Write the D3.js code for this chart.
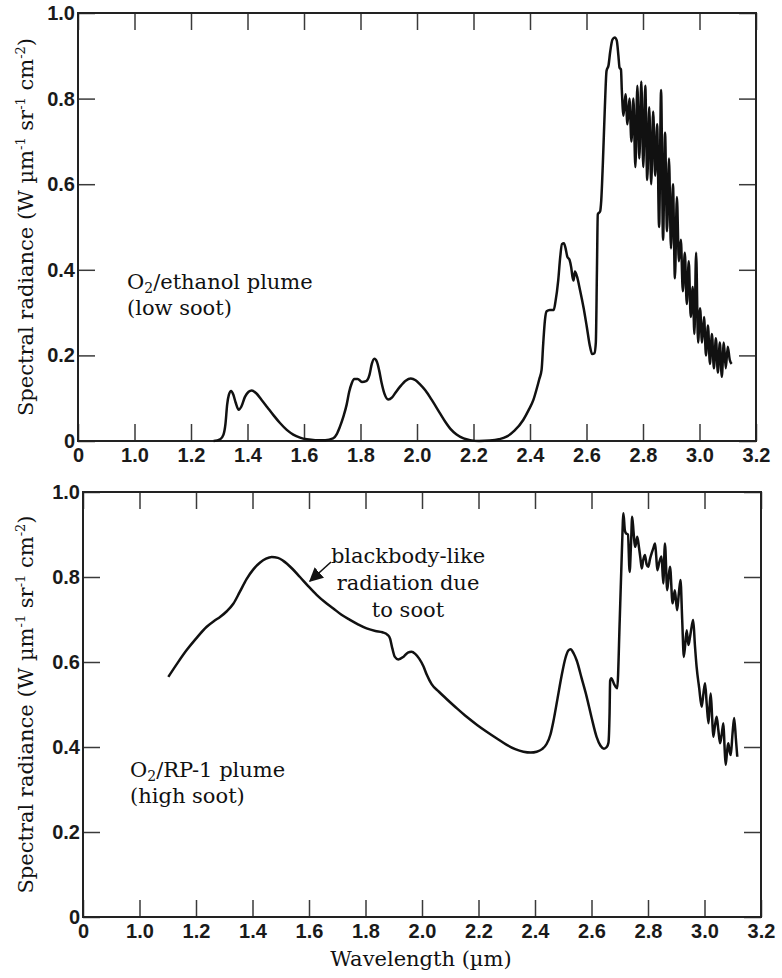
<!DOCTYPE html>
<html>
<head>
<meta charset="utf-8">
<script src="https://cdnjs.cloudflare.com/ajax/libs/d3/7.8.5/d3.min.js"></script>
<style>
body { margin: 0; background: #fff; }
svg { display: block; }
.tick text { font-family: "Liberation Sans", Arial, sans-serif; font-weight: bold; font-size: 20px; fill: #1a1a1a; }
.tick line { stroke: #3a3a3a; stroke-width: 1.5px; }
</style>
</head>
<body>
<svg id="chart" width="782" height="978"></svg>
<script>
var serifFont = "'DejaVu Serif', serif";

// tick values (0.8 position is labelled "0", the axis is broken there)
var xTickValues = [0.8, 1.0, 1.2, 1.4, 1.6, 1.8, 2.0, 2.2, 2.4, 2.6, 2.8, 3.0, 3.2];
var xTickLabels = ["0", "1.0", "1.2", "1.4", "1.6", "1.8", "2.0", "2.2", "2.4", "2.6", "2.8", "3.0", "3.2"];
var yTickValues = [0, 0.2, 0.4, 0.6, 0.8, 1.0];
var yTickLabels = ["0", "0.2", "0.4", "0.6", "0.8", "1.0"];

var ethanolPlume = [
	[1.28,0.0],[1.303,0.004],[1.315,0.015],[1.322,0.04],[1.328,0.085],[1.334,0.108],[1.342,0.117],
	[1.350,0.108],[1.358,0.090],[1.369,0.073],[1.378,0.080],[1.391,0.103],[1.404,0.115],[1.415,0.118],
	[1.430,0.112],[1.450,0.096],[1.470,0.079],[1.491,0.061],[1.515,0.042],[1.539,0.026],[1.562,0.015],
	[1.586,0.008],[1.610,0.004],[1.640,0.002],[1.675,0.002],[1.703,0.006],[1.716,0.016],[1.727,0.033],
	[1.740,0.058],[1.751,0.085],[1.760,0.115],[1.769,0.135],[1.778,0.145],[1.790,0.145],[1.805,0.138],
	[1.820,0.140],[1.832,0.155],[1.840,0.180],[1.849,0.192],[1.858,0.185],[1.866,0.165],[1.875,0.135],
	[1.885,0.110],[1.898,0.097],[1.912,0.102],[1.925,0.114],[1.940,0.127],[1.960,0.141],[1.978,0.146],
	[1.995,0.142],[2.010,0.133],[2.030,0.118],[2.055,0.093],[2.081,0.065],[2.100,0.045],[2.120,0.027],
	[2.140,0.015],[2.165,0.006],[2.188,0.002],[2.220,0.0],[2.258,0.001],[2.290,0.004],[2.317,0.010],
	[2.345,0.024],[2.376,0.049],[2.395,0.072],[2.412,0.096],[2.425,0.125],[2.433,0.145],[2.441,0.166],
	[2.447,0.230],[2.453,0.283],[2.459,0.303],[2.470,0.306],[2.484,0.306],[2.490,0.325],[2.500,0.376],
	[2.507,0.430],[2.513,0.460],[2.520,0.462],[2.526,0.450],[2.532,0.431],[2.540,0.423],[2.546,0.405],
	[2.550,0.385],[2.554,0.375],[2.559,0.396],[2.566,0.385],[2.577,0.353],[2.590,0.310],[2.601,0.267],
	[2.612,0.222],[2.620,0.203],[2.628,0.205],[2.633,0.230],[2.637,0.400],[2.640,0.530],[2.648,0.536],
	[2.652,0.560],[2.658,0.650],[2.665,0.780],[2.671,0.865],[2.678,0.878],[2.684,0.910],[2.692,0.938],
	[2.700,0.943],[2.707,0.936],[2.713,0.900],[2.717,0.872],[2.722,0.868],
	[2.725,0.82],[2.731,0.76],[2.738,0.81],[2.745,0.74],[2.752,0.80],[2.759,0.70],[2.766,0.80],
	[2.773,0.64],[2.780,0.83],[2.787,0.66],[2.794,0.84],[2.801,0.64],[2.808,0.83],[2.815,0.61],
	[2.822,0.78],[2.829,0.60],[2.836,0.77],[2.843,0.62],[2.850,0.74],[2.857,0.50],[2.864,0.82],
	[2.871,0.47],[2.878,0.72],[2.885,0.49],[2.892,0.66],[2.899,0.45],[2.906,0.60],[2.913,0.38],
	[2.920,0.57],[2.927,0.42],[2.934,0.47],[2.941,0.35],[2.948,0.44],[2.955,0.32],[2.962,0.42],
	[2.969,0.29],[2.976,0.36],[2.982,0.25],[2.988,0.44],[2.995,0.23],[3.002,0.31],[3.009,0.23],
	[3.016,0.29],[3.023,0.20],[3.030,0.27],[3.037,0.18],[3.044,0.25],[3.051,0.17],[3.058,0.24],
	[3.065,0.16],[3.072,0.23],[3.079,0.15],[3.086,0.23],[3.093,0.17],[3.100,0.22],[3.107,0.19],
	[3.114,0.18]
];

var rp1Plume = [
	[1.102,0.565],[1.135,0.598],[1.167,0.628],[1.200,0.655],[1.238,0.683],[1.265,0.697],[1.285,0.706],
	[1.310,0.720],[1.332,0.737],[1.355,0.765],[1.379,0.795],[1.403,0.818],[1.427,0.834],[1.448,0.843],
	[1.468,0.847],[1.490,0.845],[1.509,0.838],[1.540,0.820],[1.568,0.800],[1.598,0.778],[1.627,0.758],
	[1.656,0.741],[1.686,0.726],[1.715,0.711],[1.745,0.699],[1.775,0.688],[1.804,0.679],[1.835,0.673],
	[1.860,0.670],[1.878,0.664],[1.887,0.655],[1.895,0.632],[1.904,0.612],[1.916,0.606],[1.934,0.612],
	[1.950,0.622],[1.963,0.624],[1.976,0.619],[1.990,0.608],[2.005,0.590],[2.017,0.570],[2.034,0.548],
	[2.060,0.530],[2.087,0.513],[2.120,0.493],[2.158,0.471],[2.195,0.452],[2.229,0.436],[2.265,0.420],
	[2.300,0.405],[2.330,0.395],[2.359,0.389],[2.385,0.387],[2.406,0.389],[2.425,0.395],[2.441,0.407],
	[2.455,0.430],[2.465,0.460],[2.480,0.515],[2.494,0.567],[2.508,0.610],[2.518,0.627],[2.526,0.630],
	[2.537,0.620],[2.548,0.603],[2.565,0.562],[2.583,0.518],[2.600,0.470],[2.618,0.424],[2.632,0.403],
	[2.644,0.396],[2.654,0.400],[2.660,0.410],[2.664,0.480],[2.666,0.556],[2.670,0.562],[2.680,0.548],
	[2.691,0.538],[2.700,0.700],[2.708,0.870],[2.713,0.950],[2.718,0.910],[2.722,0.903],[2.729,0.900],
	[2.735,0.812],[2.740,0.880],[2.744,0.942],[2.749,0.905],[2.754,0.871],[2.758,0.880],[2.762,0.895],
	[2.768,0.870],[2.773,0.845],[2.778,0.820],[2.783,0.840],[2.789,0.852],[2.795,0.830],[2.801,0.824],
	[2.807,0.842],[2.813,0.856],[2.819,0.868],[2.825,0.879],[2.829,0.850],[2.833,0.816],[2.840,0.835],
	[2.848,0.848],[2.854,0.785],[2.860,0.879],[2.868,0.769],[2.873,0.800],[2.878,0.824],[2.887,0.738],
	[2.895,0.769],[2.903,0.722],[2.909,0.760],[2.915,0.793],[2.921,0.700],[2.927,0.612],[2.937,0.675],
	[2.943,0.640],[2.949,0.660],[2.955,0.685],[2.960,0.699],[2.966,0.640],[2.972,0.589],[2.981,0.540],
	[2.990,0.495],[2.996,0.525],[3.002,0.550],[3.008,0.500],[3.014,0.456],[3.018,0.495],[3.022,0.526],
	[3.027,0.470],[3.031,0.424],[3.037,0.450],[3.043,0.471],[3.049,0.440],[3.055,0.409],[3.061,0.430],
	[3.067,0.456],[3.071,0.400],[3.075,0.358],[3.080,0.390],[3.084,0.409],[3.089,0.390],[3.093,0.381],
	[3.099,0.430],[3.105,0.468],[3.111,0.420],[3.116,0.377]
];

var svg = d3.select("#chart");

svg.append("defs").append("marker")
	.attr("id", "arrow")
	.attr("viewBox", "0 0 10 10")
	.attr("refX", 9)
	.attr("refY", 5)
	.attr("markerUnits", "userSpaceOnUse")
	.attr("markerWidth", 14)
	.attr("markerHeight", 14)
	.attr("orient", "auto")
	.append("path")
	.attr("d", "M0,0 L10,5 L0,10 z")
	.attr("fill", "#111");

function serifText(sel, size) {
	return sel.append("text")
		.attr("font-family", serifFont)
		.style("font-family", serifFont)
		.attr("font-size", size)
		.attr("fill", "#111");
}

function drawPanel(box, data) {
	var x = d3.scaleLinear().domain([0.8, 3.2]).range([box.left, box.right]);
	var y = d3.scaleLinear().domain([0, 1]).range([box.bottom, box.top]);
	var g = svg.append("g");
	var tickLen = 17;

	g.append("g")
		.attr("transform", "translate(0," + box.bottom + ")")
		.call(d3.axisBottom(x).tickValues(xTickValues).tickSize(-tickLen).tickPadding(7)
			.tickFormat(function(d, i) { return xTickLabels[i]; }));

	g.append("g")
		.attr("transform", "translate(0," + box.top + ")")
		.call(d3.axisTop(x).tickValues(xTickValues).tickSize(-tickLen).tickFormat(""));

	g.append("g")
		.attr("transform", "translate(" + box.left + ",0)")
		.call(d3.axisLeft(y).tickValues(yTickValues).tickSize(-tickLen).tickPadding(3)
			.tickFormat(function(d, i) { return yTickLabels[i]; }));

	g.append("g")
		.attr("transform", "translate(" + box.right + ",0)")
		.call(d3.axisRight(y).tickValues(yTickValues).tickSize(-tickLen).tickFormat(""));

	g.selectAll(".domain").remove();

	g.append("rect")
		.attr("x", box.left)
		.attr("y", box.top)
		.attr("width", box.right - box.left)
		.attr("height", box.bottom - box.top)
		.attr("fill", "none")
		.attr("stroke", "#222")
		.attr("stroke-width", 2);

	var line = d3.line()
		.x(function(d) { return x(d[0]); })
		.y(function(d) { return y(d[1]); })
		.curve(d3.curveMonotoneX);

	g.append("path")
		.datum(data)
		.attr("d", line)
		.attr("fill", "none")
		.attr("stroke", "#111")
		.attr("stroke-width", 2.5)
		.attr("stroke-linejoin", "round");

	radianceTitle(33, (box.top + box.bottom) / 2);
	return g;
}

function radianceTitle(cx, cy) {
	var t = serifText(svg, 21)
		.attr("transform", "translate(" + cx + "," + cy + ") rotate(-90)")
		.attr("text-anchor", "middle");
	t.append("tspan").text("Spectral radiance (W µm");
	t.append("tspan").attr("dy", -8).attr("font-size", 13).text("-1");
	t.append("tspan").attr("dy", 8).text(" sr");
	t.append("tspan").attr("dy", -8).attr("font-size", 13).text("-1");
	t.append("tspan").attr("dy", 8).text(" cm");
	t.append("tspan").attr("dy", -8).attr("font-size", 13).text("-2");
	t.append("tspan").attr("dy", 8).text(")");
}

function plumeLabel(x0, y0, fuel, soot) {
	var t = serifText(svg, 21).attr("x", x0).attr("y", y0);
	t.append("tspan").text("O");
	t.append("tspan").attr("dy", 4).attr("font-size", 14).text("2");
	t.append("tspan").attr("dy", -4).text("/" + fuel + " plume");
	serifText(svg, 21).attr("x", x0).attr("y", y0 + 26).text(soot);
}

drawPanel({left: 78, right: 756, top: 13, bottom: 441}, ethanolPlume);
drawPanel({left: 83, right: 761, top: 492, bottom: 917}, rp1Plume);

plumeLabel(127, 289, "ethanol", "(low soot)");
plumeLabel(130, 777, "RP-1", "(high soot)");

var note = ["blackbody-like", "radiation due", "to soot"];
note.forEach(function(d, i) {
	serifText(svg, 21)
		.attr("x", 408)
		.attr("y", 563 + i * 27)
		.attr("text-anchor", "middle")
		.text(d);
});

svg.append("line")
	.attr("x1", 331).attr("y1", 562)
	.attr("x2", 310).attr("y2", 581)
	.attr("stroke", "#111")
	.attr("stroke-width", 1.6)
	.attr("marker-end", "url(#arrow)");

serifText(svg, 21)
	.attr("x", 421)
	.attr("y", 966)
	.attr("text-anchor", "middle")
	.text("Wavelength (µm)");
</script>
</body>
</html>
